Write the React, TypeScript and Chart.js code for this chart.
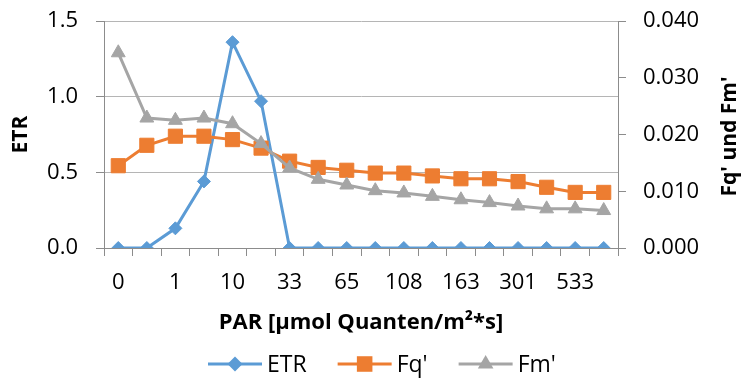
import React, { useEffect, useRef } from 'react';
import { Chart, registerables } from 'chart.js';

Chart.register(...registerables);

// PAR categories (every second label is not printed in the original)
const parLabels = ['0', '', '1', '', '10', '', '33', '', '65', '', '108', '', '163', '', '301', '', '533', ''];

// ETR (left axis)
const etrValues = [0, 0, 0.13, 0.44, 1.36, 0.97, 0, 0, 0, 0, 0, 0, 0, 0, 0, 0, 0, 0];

// Fq' (right axis)
const fqValues = [0.0145, 0.0181, 0.0197, 0.0197, 0.0191, 0.0176, 0.0153, 0.0142, 0.0137, 0.0132, 0.0132, 0.0127, 0.0122, 0.0122, 0.0117, 0.0107, 0.0098, 0.0098];

// Fm' (right axis)
const fmValues = [0.0344, 0.0229, 0.0225, 0.0229, 0.0219, 0.0184, 0.0141, 0.0121, 0.0111, 0.0101, 0.0097, 0.0091, 0.0085, 0.0080, 0.0074, 0.0069, 0.0069, 0.0066];

const FONT = '"Open Sans", sans-serif';
const AXIS_COLOR = '#8c8c8c';
const GRID_COLOR = '#b5b5b5';

function drawMarker(ctx: CanvasRenderingContext2D, style: string, x: number, y: number, r: number, color: string) {
  ctx.save();
  ctx.fillStyle = color;
  ctx.beginPath();
  if (style === 'rectRot') {
    ctx.moveTo(x, y - r);
    ctx.lineTo(x + r, y);
    ctx.lineTo(x, y + r);
    ctx.lineTo(x - r, y);
  } else if (style === 'rect') {
    const s = r * Math.SQRT1_2;
    ctx.rect(x - s, y - s, 2 * s, 2 * s);
  } else {
    const h = r * Math.sin(Math.PI / 3);
    ctx.moveTo(x, y - r);
    ctx.lineTo(x + h, y + r / 2);
    ctx.lineTo(x - h, y + r / 2);
  }
  ctx.closePath();
  ctx.fill();
  ctx.restore();
}

const extrasPlugin = {
  id: 'extras',
  afterDraw(chart: any) {
    const ctx: CanvasRenderingContext2D = chart.ctx;
    const area = chart.chartArea;
    // right axis title (reads bottom to top)
    ctx.save();
    ctx.font = `bold 21px ${FONT}`;
    ctx.fillStyle = '#000';
    ctx.translate(chart.width - 11, (area.top + area.bottom) / 2 + 2);
    ctx.rotate(-Math.PI / 2);
    ctx.textAlign = 'center';
    ctx.textBaseline = 'middle';
    ctx.fillText("Fq' und Fm'", 0, 0);
    ctx.restore();

    // legend
    ctx.save();
    ctx.font = `23px ${FONT}`;
    let x = 208;
    const y = 364;
    chart.data.datasets.forEach((ds: any) => {
      ctx.strokeStyle = ds.borderColor;
      ctx.lineWidth = 3;
      ctx.beginPath();
      ctx.moveTo(x, y);
      ctx.lineTo(x + 54, y);
      ctx.stroke();
      drawMarker(ctx, ds.pointStyle, x + 27, y, ds.pointRadius + 1, ds.borderColor);
      ctx.fillStyle = '#000';
      ctx.textAlign = 'left';
      ctx.textBaseline = 'alphabetic';
      ctx.fillText(ds.label, x + 59, 372);
      x += 59 + ctx.measureText(ds.label).width + 31;
    });
    ctx.restore();
  },
};

export default function App() {
  const canvasRef = useRef<HTMLCanvasElement | null>(null);

  useEffect(() => {
    if (!canvasRef.current) return;
    const tickFont = { family: FONT, size: 22 };
    const chart = new Chart(canvasRef.current, {
      type: 'line',
      data: {
        labels: parLabels,
        datasets: [
          {
            label: 'ETR',
            data: etrValues,
            yAxisID: 'y',
            borderColor: '#5B9BD5',
            backgroundColor: '#5B9BD5',
            borderWidth: 3,
            pointStyle: 'rectRot',
            pointRadius: 6.5,
            pointBorderWidth: 1,
            tension: 0,
            order: 3,
          },
          {
            label: "Fq'",
            data: fqValues,
            yAxisID: 'y1',
            borderColor: '#ED7D31',
            backgroundColor: '#ED7D31',
            borderWidth: 3,
            pointStyle: 'rect',
            pointRadius: 10,
            pointBorderWidth: 1,
            tension: 0,
            order: 2,
          },
          {
            label: "Fm'",
            data: fmValues,
            yAxisID: 'y1',
            borderColor: '#A5A5A5',
            backgroundColor: '#A5A5A5',
            borderWidth: 3,
            pointStyle: 'triangle',
            pointRadius: 8,
            pointBorderWidth: 1,
            tension: 0,
            order: 1,
          },
        ] as any,
      },
      options: {
        animation: false,
        responsive: true,
        maintainAspectRatio: false,
        devicePixelRatio: 1,
        layout: { padding: { top: 21, left: 0, right: 0, bottom: 0 } },
        plugins: {
          legend: { display: false },
          tooltip: { enabled: false },
        },
        scales: {
          x: {
            type: 'category',
            offset: true,
            grid: {
              offset: true,
              drawOnChartArea: false,
              drawTicks: true,
              tickLength: 8,
              color: AXIS_COLOR,
              lineWidth: 1,
            },
            border: { display: true, color: AXIS_COLOR, width: 1 },
            ticks: {
              autoSkip: false,
              maxRotation: 0,
              minRotation: 0,
              padding: 14,
              color: '#000',
              font: tickFont,
              callback: (_v: any, i: number) => parLabels[i],
            },
            title: {
              display: true,
              text: 'PAR [µmol Quanten/m²*s]',
              color: '#000',
              font: { family: FONT, size: 22, weight: 'bold', lineHeight: 1 },
              padding: { top: 0, bottom: 44 },
            },
            afterFit: (s: any) => {
              s.height = 130;
              s.paddingLeft = 0;
              s.paddingRight = 0;
            },
          } as any,
          y: {
            type: 'linear',
            position: 'left',
            min: 0,
            max: 1.5,
            grid: {
              color: GRID_COLOR,
              tickColor: AXIS_COLOR,
              drawTicks: true,
              tickLength: 8,
              lineWidth: 1,
            },
            border: { display: true, color: AXIS_COLOR, width: 1 },
            ticks: {
              stepSize: 0.5,
              padding: 18,
              color: '#000',
              font: tickFont,
              callback: (v: any) => Number(v).toFixed(1),
            },
            title: {
              display: true,
              text: 'ETR',
              color: '#000',
              font: { family: FONT, size: 21, weight: 'bold', lineHeight: 1 },
              padding: { top: 11, bottom: 0 },
            },
            afterFit: (s: any) => {
              s.width = 104;
              s.paddingTop = 0;
              s.paddingBottom = 0;
            },
          } as any,
          y1: {
            type: 'linear',
            position: 'right',
            min: 0,
            max: 0.04,
            grid: {
              drawOnChartArea: false,
              drawTicks: true,
              tickLength: 8,
              color: AXIS_COLOR,
              lineWidth: 1,
            },
            border: { display: true, color: AXIS_COLOR, width: 1 },
            ticks: {
              stepSize: 0.01,
              padding: 17,
              color: '#000',
              font: tickFont,
              callback: (v: any) => Number(v).toFixed(3),
            },
            title: { display: false },
            afterFit: (s: any) => {
              s.width = 123;
              s.paddingTop = 0;
              s.paddingBottom = 0;
            },
          } as any,
        },
      },
      plugins: [extrasPlugin],
    });
    return () => chart.destroy();
  }, []);

  return (
    <div style={{ position: 'absolute', left: 0, top: 0, width: 741, height: 378, background: '#fff' }}>
      <canvas ref={canvasRef} />
    </div>
  );
}
